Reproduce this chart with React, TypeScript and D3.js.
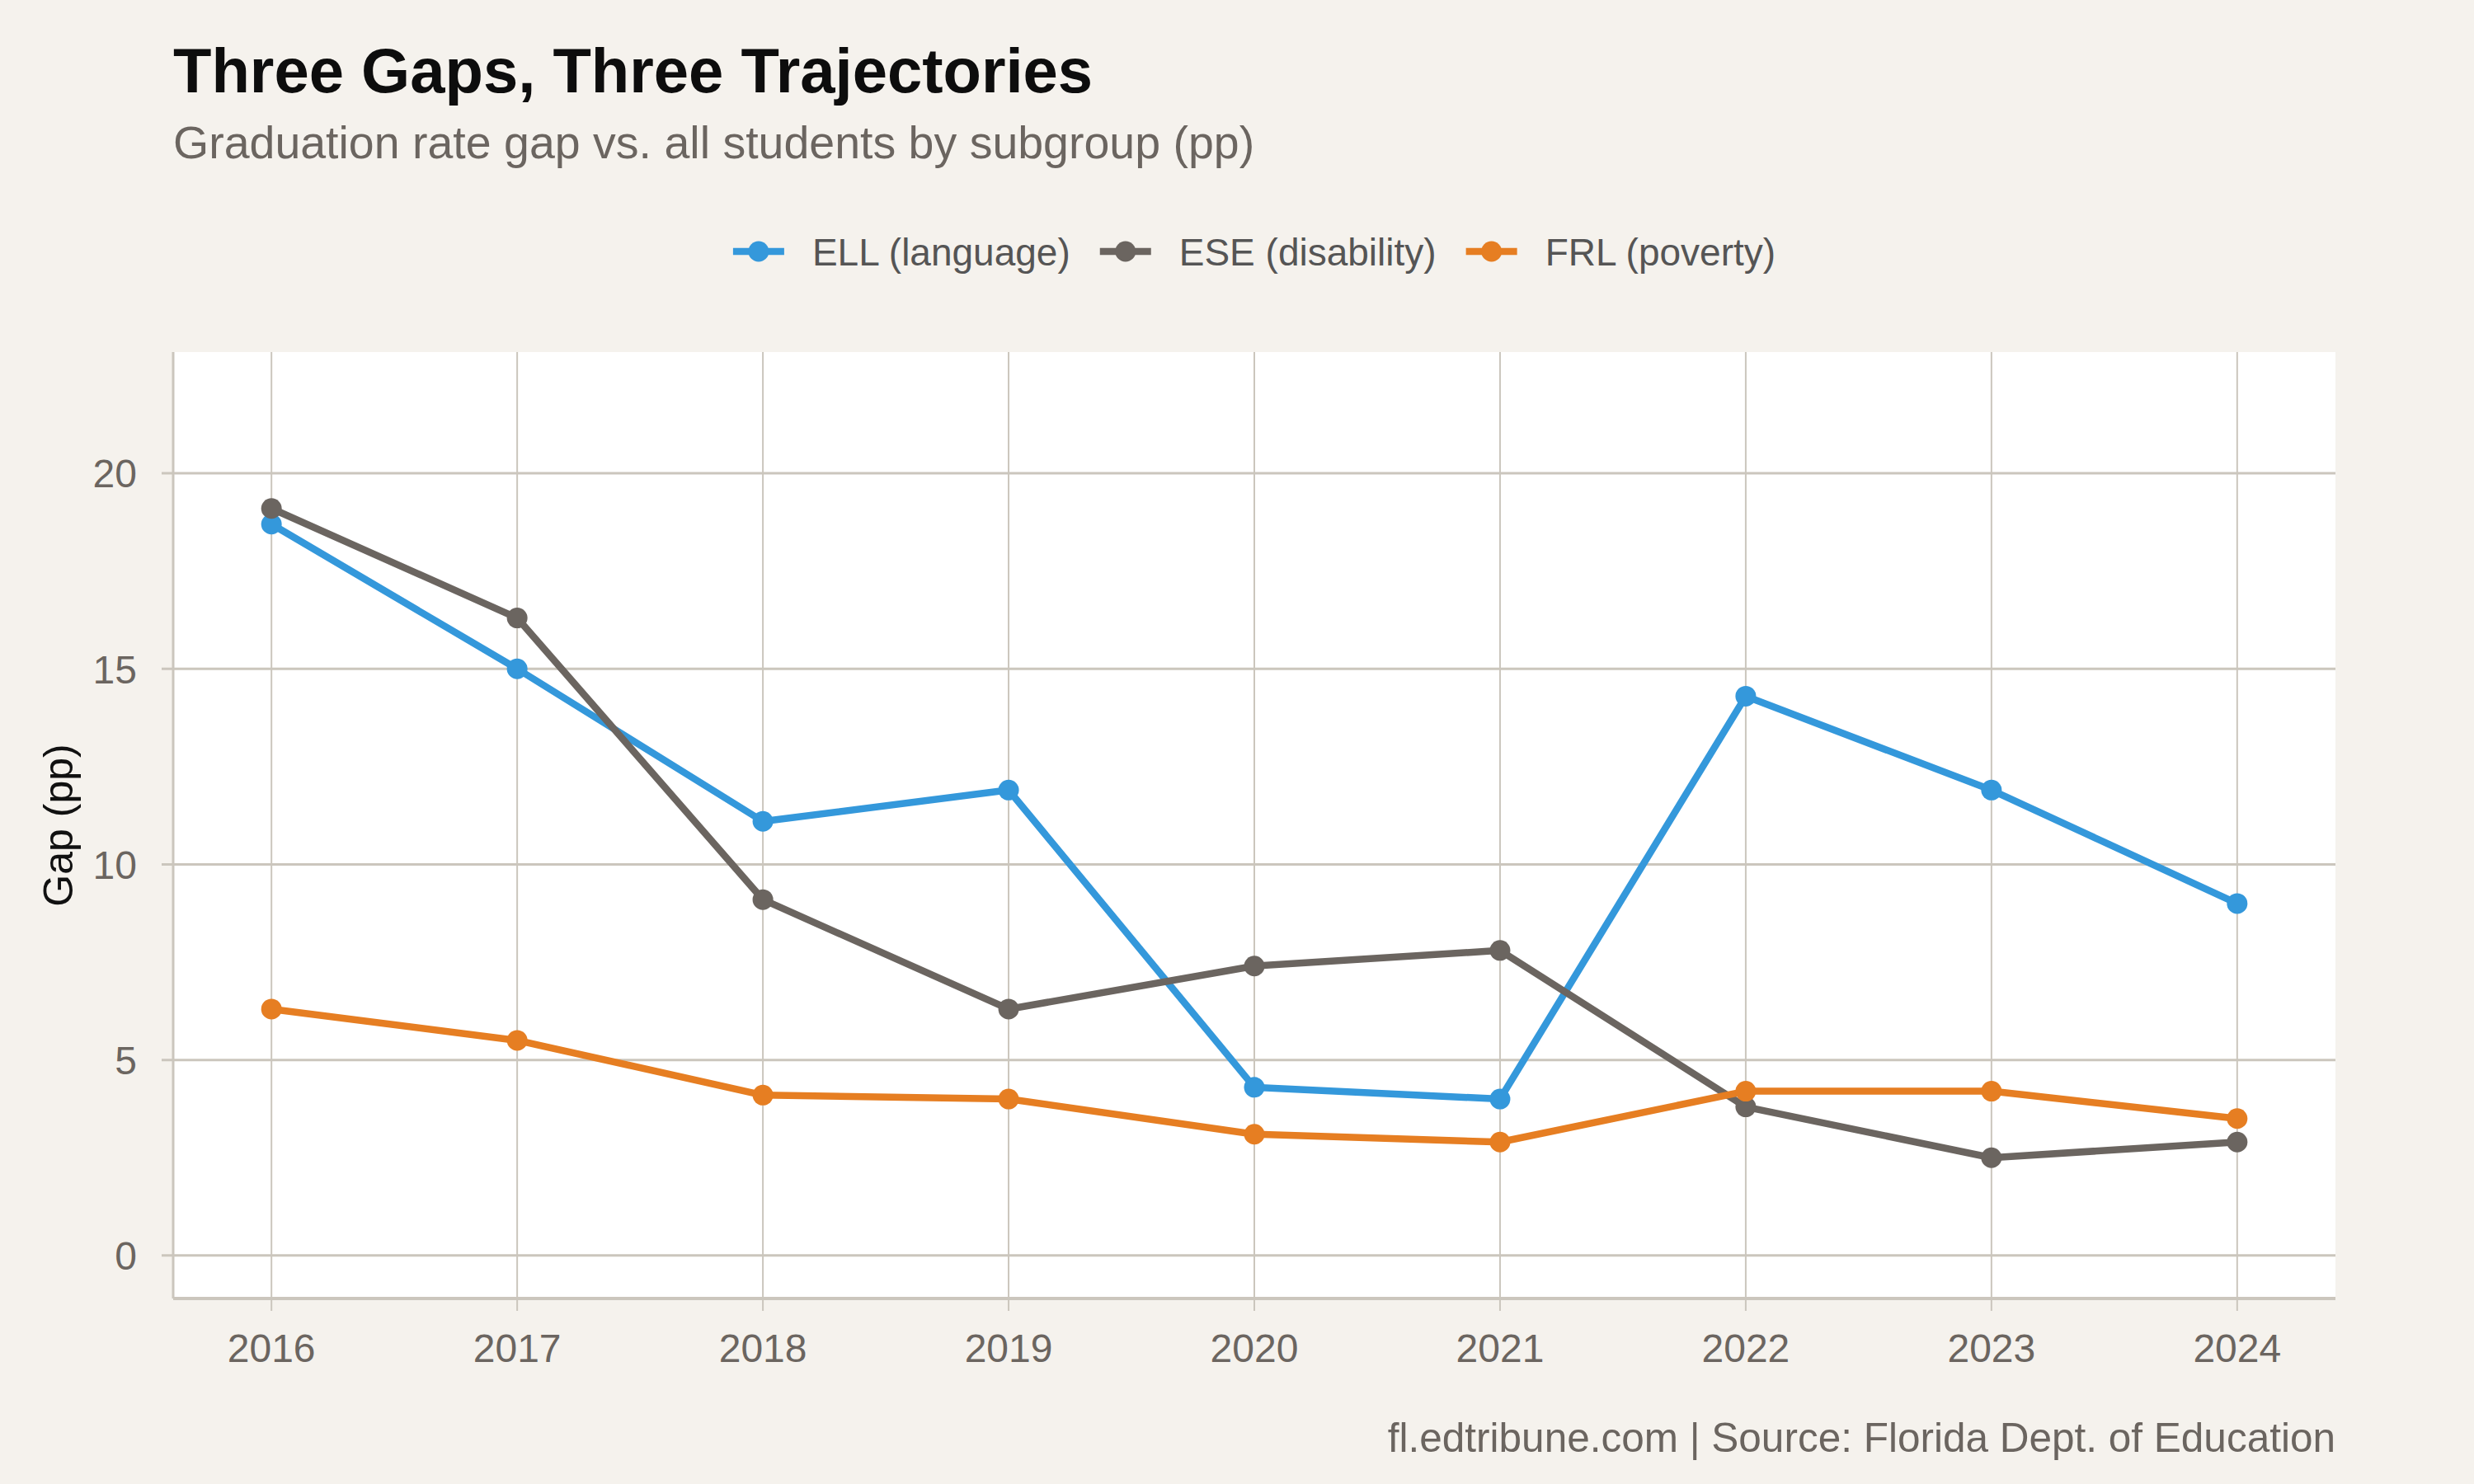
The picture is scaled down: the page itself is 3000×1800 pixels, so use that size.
import { useEffect, useRef } from "react";
import * as d3 from "d3";

const years = [2016, 2017, 2018, 2019, 2020, 2021, 2022, 2023, 2024];
const ellGap = [18.7, 15.0, 11.1, 11.9, 4.3, 4.0, 14.3, 11.9, 9.0];
const eseGap = [19.1, 16.3, 9.1, 6.3, 7.4, 7.8, 3.8, 2.5, 2.9];
const frlGap = [6.3, 5.5, 4.1, 4.0, 3.1, 2.9, 4.2, 4.2, 3.5];
const seriesLabels = ["ELL (language)", "ESE (disability)", "FRL (poverty)"];
const seriesColors = ["#3498db", "#6b6560", "#e67e22"];
const yTicks = [0, 5, 10, 15, 20];

const title = "Three Gaps, Three Trajectories";
const subtitle = "Graduation rate gap vs. all students by subgroup (pp)";
const caption = "fl.edtribune.com | Source: Florida Dept. of Education";
const yTitle = "Gap (pp)";

const W = 3000;
const H = 1800;
const FONT = "'Liberation Sans', Arial, Helvetica, sans-serif";
const GRID = "#cbc6bd";

export default function App() {
  const svgRef = useRef<SVGSVGElement>(null);

  useEffect(() => {
    document.body.style.margin = "0";
    if (!svgRef.current) return;
    const svg = d3.select(svgRef.current);
    svg.selectAll("*").remove();

    const panel = { left: 210, right: 2832, top: 427, bottom: 1575 };

    svg.append("rect").attr("width", W).attr("height", H).attr("fill", "#f5f2ed");

    const x = d3.scaleLinear().domain([2015.6, 2024.4]).range([panel.left, panel.right]);
    const y = d3.scaleLinear().domain([-1.1, 23.1]).range([panel.bottom, panel.top]);

    svg.append("rect")
      .attr("x", panel.left)
      .attr("y", panel.top)
      .attr("width", panel.right - panel.left)
      .attr("height", panel.bottom - panel.top)
      .attr("fill", "#ffffff");

    const grid = svg.append("g");
    grid.selectAll(".vgrid")
      .data(years)
      .enter()
      .append("line")
      .attr("x1", (d) => x(d))
      .attr("x2", (d) => x(d))
      .attr("y1", panel.top)
      .attr("y2", panel.bottom + 15)
      .attr("stroke", GRID)
      .attr("stroke-width", 2);

    grid.selectAll(".hgrid")
      .data(yTicks)
      .enter()
      .append("line")
      .attr("x1", panel.left - 14)
      .attr("x2", panel.right)
      .attr("y1", (d) => y(d))
      .attr("y2", (d) => y(d))
      .attr("stroke", GRID)
      .attr("stroke-width", 3);

    // axis lines
    svg.append("line")
      .attr("x1", panel.left).attr("x2", panel.right)
      .attr("y1", panel.bottom).attr("y2", panel.bottom)
      .attr("stroke", GRID).attr("stroke-width", 4);
    svg.append("line")
      .attr("x1", panel.left).attr("x2", panel.left)
      .attr("y1", panel.top).attr("y2", panel.bottom)
      .attr("stroke", GRID).attr("stroke-width", 3);

    // tick labels
    svg.append("g")
      .selectAll("text")
      .data(years)
      .enter()
      .append("text")
      .attr("x", (d) => x(d))
      .attr("y", 1652)
      .attr("text-anchor", "middle")
      .style("font-family", FONT)
      .style("font-size", "48px")
      .style("fill", "#6b6560")
      .text((d) => d);

    svg.append("g")
      .selectAll("text")
      .data(yTicks)
      .enter()
      .append("text")
      .attr("x", 166)
      .attr("y", (d) => y(d))
      .attr("dy", "0.36em")
      .attr("text-anchor", "end")
      .style("font-family", FONT)
      .style("font-size", "48px")
      .style("fill", "#6b6560")
      .text((d) => d);

    svg.append("text")
      .attr("transform", `translate(70,${(panel.top + panel.bottom) / 2}) rotate(-90)`)
      .attr("dy", "0.36em")
      .attr("text-anchor", "middle")
      .style("font-family", FONT)
      .style("font-size", "50px")
      .style("fill", "#111111")
      .text(yTitle);

    // series
    const series = [ellGap, eseGap, frlGap].map((vals, i) => ({
      label: seriesLabels[i],
      color: seriesColors[i],
      points: vals.map((v, k) => ({ year: years[k], value: v })),
    }));

    const line = d3.line<{ year: number; value: number }>()
      .x((d) => x(d.year))
      .y((d) => y(d.value));

    series.forEach((s) => {
      const g = svg.append("g");
      g.append("path")
        .datum(s.points)
        .attr("d", line)
        .attr("fill", "none")
        .attr("stroke", s.color)
        .attr("stroke-width", 8.5)
        .attr("stroke-linejoin", "round");
      g.selectAll("circle")
        .data(s.points)
        .enter()
        .append("circle")
        .attr("cx", (d) => x(d.year))
        .attr("cy", (d) => y(d.value))
        .attr("r", 12.5)
        .attr("fill", s.color);
    });

    // titles
    svg.append("text")
      .attr("x", 210)
      .attr("y", 112)
      .style("font-family", FONT)
      .style("font-size", "76px")
      .style("font-weight", "bold")
      .style("fill", "#0d0d0d")
      .text(title);

    svg.append("text")
      .attr("x", 210)
      .attr("y", 192)
      .style("font-family", FONT)
      .style("font-size", "55.5px")
      .style("fill", "#6b6560")
      .text(subtitle);

    svg.append("text")
      .attr("x", panel.right)
      .attr("y", 1761)
      .attr("text-anchor", "end")
      .style("font-family", FONT)
      .style("font-size", "49.5px")
      .style("fill", "#6b6560")
      .text(caption);

    // legend, centred over panel
    const legend = svg.append("g");
    const keyW = 62;
    const keyGap = 34;
    const itemGap = 36;
    const legendY = 305;
    let cursor = 0;
    const items = series.map((s) => {
      const item = legend.append("g");
      item.append("line")
        .attr("x1", 0).attr("x2", keyW)
        .attr("y1", 0).attr("y2", 0)
        .attr("stroke", s.color).attr("stroke-width", 8.5);
      item.append("circle")
        .attr("cx", keyW / 2).attr("cy", 0).attr("r", 12.5)
        .attr("fill", s.color);
      const t = item.append("text")
        .attr("x", keyW + keyGap)
        .attr("y", 0)
        .attr("dy", "0.36em")
        .style("font-family", FONT)
        .style("font-size", "46px")
        .style("fill", "#555555")
        .text(s.label);
      const tw = (t.node() as SVGTextElement).getComputedTextLength();
      const width = keyW + keyGap + tw;
      const pos = cursor;
      cursor += width + itemGap;
      return { item, pos };
    });
    const total = cursor - itemGap;
    const start = (panel.left + panel.right) / 2 - total / 2;
    items.forEach(({ item, pos }) => {
      item.attr("transform", `translate(${start + pos},${legendY})`);
    });
  }, []);

  return <svg ref={svgRef} width={W} height={H} style={{ display: "block" }} />;
}
